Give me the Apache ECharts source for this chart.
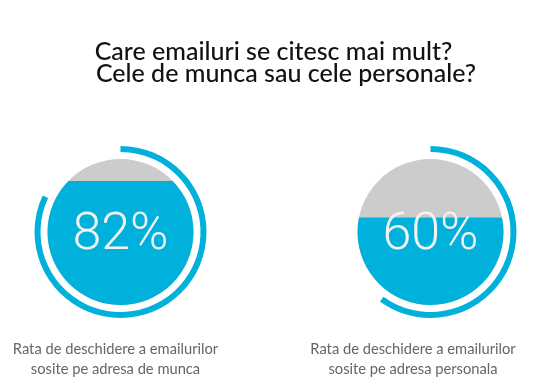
<!DOCTYPE html>
<html><head><meta charset="utf-8">
<script src="https://cdn.jsdelivr.net/npm/echarts@6/dist/echarts.min.js"></script>
<style>html,body{margin:0;padding:0;background:#fff}#c{width:545px;height:392px}</style>
</head><body><div id="c"></div>
<script>
const titleLines = ['Care emailuri se citesc mai mult?', 'Cele de munca sau cele personale?'];
const labelLines = [
  ['Rata de deschidere a emailurilor', 'sosite pe adresa de munca'],
  ['Rata de deschidere a emailurilor', 'sosite pe adresa personala']
];
const rates = [82, 60];
const fillLevels = [85, 60];

const layout = [{cx: 120.5, cy: 232, lx: 115.5}, {cx: 430.5, cy: 232, lx: 413}];
const BLUE = '#00b1db', GRAY = '#cccccc';
const R = 73;

const chart = echarts.init(document.getElementById('c'));
const series = [];
rates.forEach((v, i) => {
  series.push({
    type: 'pie', silent: true, animation: false,
    center: [layout[i].cx, layout[i].cy], radius: [80, 86],
    startAngle: 90, clockwise: true,
    label: {show: false}, labelLine: {show: false},
    emphasis: {disabled: true},
    itemStyle: {borderWidth: 0},
    data: [
      {value: v, itemStyle: {color: BLUE}},
      {value: 100 - v, itemStyle: {color: 'rgba(0,0,0,0)'}}
    ]
  });
});
series.push({
  type: 'custom', coordinateSystem: 'none', silent: true, animation: false,
  data: rates.map((v, i) => [i, v, fillLevels[i]]),
  renderItem(params, api) {
    const i = api.value(0), v = api.value(1), lv = api.value(2) / 100;
    const {cx, cy} = layout[i];
    const yl = cy + R - 2 * R * lv;
    const w = Math.sqrt(Math.max(0, R * R - (yl - cy) * (yl - cy)));
    const large = lv > 0.5 ? 1 : 0;
    return {type: 'group', children: [
      {type: 'circle', shape: {cx, cy, r: R}, style: {fill: GRAY}},
      {type: 'path', shape: {pathData: `M ${cx + w} ${yl} A ${R} ${R} 0 ${large} 1 ${cx - w} ${yl} Z`}, style: {fill: BLUE}},
      {type: 'text', x: cx, y: cy + 3.5, style: {text: v + '%', fill: '#f2f2f2', font: '300 52px Roboto', align: 'center', verticalAlign: 'middle', textAlign: 'center', textVerticalAlign: 'middle'}}
    ]};
  }
});

const graphics = [];
const titleX = [273.5, 286], titleY = [52, 74];
titleLines.forEach((t, k) => graphics.push({
  type: 'text', x: titleX[k], y: titleY[k],
  style: {text: t, fill: '#111', font: '500 25px Lato', textAlign: 'center', textVerticalAlign: 'middle'}
}));
labelLines.forEach((lines, i) => lines.forEach((t, k) => graphics.push({
  type: 'text', x: layout[i].lx, y: 349 + 20 * k,
  style: {text: t, fill: '#666', font: '14.7px Lato', textAlign: 'center', textVerticalAlign: 'middle'}
})));

chart.setOption({animation: false, backgroundColor: '#fff', series, graphic: graphics});
</script></body></html>
